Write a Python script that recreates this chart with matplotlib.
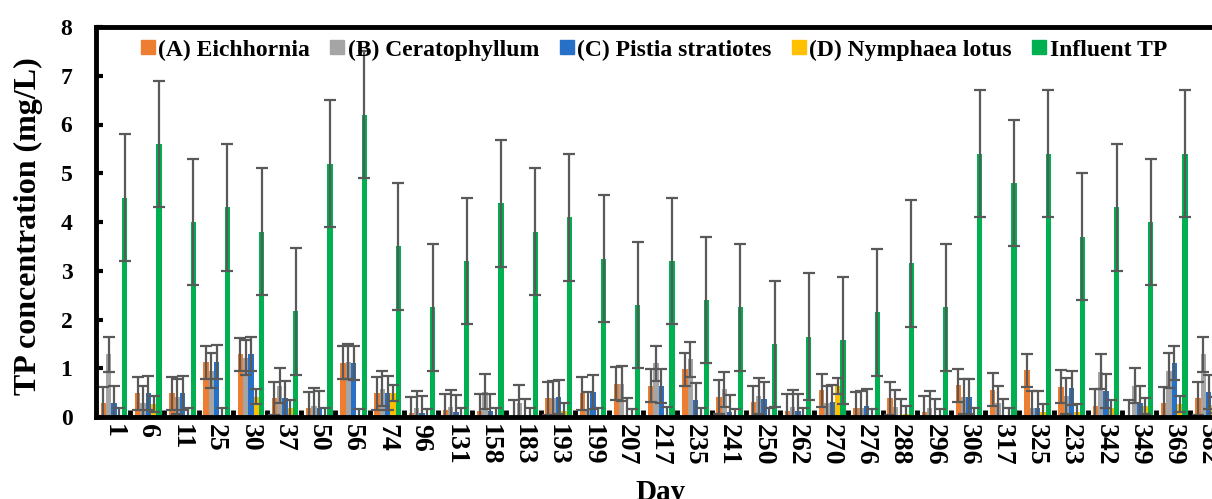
import matplotlib
matplotlib.use("Agg")
import matplotlib.pyplot as plt
from matplotlib.lines import Line2D
import numpy as np

days = ['1', '6', '11', '25', '30', '37', '50', '56', '74', '96', '131', '158', '183',
        '193', '199', '207', '217', '235', '241', '250', '262', '270', '276', '288',
        '296', '306', '317', '325', '233', '342', '349', '369', '382']

eichhornia = [0.28, 0.49, 0.49, 1.12, 1.29, 0.38, 0.18, 1.11, 0.49, 0.08, 0.14, 0.13, 0.01,
              0.38, 0.49, 0.68, 0.64, 0.98, 0.41, 0.30, 0.13, 0.55, 0.18, 0.38, 0.10, 0.65,
              0.56, 0.96, 0.62, 0.23, 0.01, 0.28, 0.38]
ceratophyllum = [1.29, 0.28, 0.42, 0.95, 1.22, 0.64, 0.23, 1.13, 0.58, 0.18, 0.20, 0.52, 0.29,
                 0.38, 0.15, 0.68, 1.10, 1.18, 0.57, 0.43, 0.20, 0.28, 0.18, 0.20, 0.18, 0.42,
                 0.28, 0.18, 0.43, 0.93, 0.64, 0.95, 1.29]
pistia = [0.28, 0.49, 0.49, 1.12, 1.29, 0.38, 0.18, 1.11, 0.49, 0.08, 0.10, 0.13, 0.01,
          0.41, 0.52, 0.05, 0.64, 0.34, 0.11, 0.36, 0.13, 0.31, 0.23, 0.01, 0.01, 0.42,
          0.01, 0.18, 0.60, 0.54, 0.28, 1.10, 0.52]
nymphaea = [0.03, 0.27, 0.02, 0.03, 0.42, 0.18, 0.02, 0.01, 0.49, 0.01, 0.02, 0.02, 0.02,
            0.13, 0.03, 0.01, 0.05, 0.02, 0.00, 0.02, 0.03, 0.64, 0.01, 0.07, 0.01, 0.02,
            0.02, 0.10, 0.11, 0.18, 0.23, 0.27, 0.25]
influent = [4.5, 5.6, 4.0, 4.3, 3.8, 2.17, 5.2, 6.2, 3.5, 2.25, 3.2, 4.38, 3.8,
            4.1, 3.25, 2.3, 3.2, 2.4, 2.25, 1.5, 1.65, 1.57, 2.15, 3.15, 2.25, 5.4,
            4.8, 5.4, 3.7, 4.3, 4.0, 5.4, 4.3]

err_eichhornia = 0.34
err_ceratophyllum = 0.36
err_pistia = 0.35
err_nymphaea = 0.16
err_influent = 1.3

series_names = ['(A) Eichhornia', '(B) Ceratophyllum', '(C) Pistia stratiotes',
                '(D) Nymphaea lotus', 'Influent TP']
yticks = [0, 1, 2, 3, 4, 5, 6, 7, 8]

colors = ['#ED7D31', '#A5A5A5', '#2670C8', '#FFC000', '#00B050']
plt.rcParams['font.family'] = ['Liberation Serif', 'DejaVu Serif']
plt.rcParams['font.weight'] = 'bold'

W, H = 1212, 499
fig = plt.figure(figsize=(W / 100, H / 100), dpi=100)
left_px, right_px, top_px, bot_px = 96, 96 + 33 * 34.2, 27, 417
ax = fig.add_axes([left_px / W, 1 - bot_px / H, (right_px - left_px) / W, (bot_px - top_px) / H])

x = np.arange(len(days))
bw = 0.156
values = [eichhornia, ceratophyllum, pistia, nymphaea, influent]
errs = [err_eichhornia, err_ceratophyllum, err_pistia, err_nymphaea, err_influent]
for i, (vals, e, c) in enumerate(zip(values, errs, colors)):
    ax.bar(x + (i - 2) * bw + 0.03, vals, width=bw, color=c, yerr=e,
           error_kw=dict(ecolor='#595959', elinewidth=1.6, capsize=4.2, capthick=1.6),
           zorder=2)

ax.set_xlim(-0.5, len(days) - 0.5)
ax.set_ylim(0, 8)
ax.set_yticks(yticks)
ax.set_yticklabels([str(v) for v in yticks])

ax.set_xticks(np.arange(len(days) - 1) + 0.5)
ax.set_xticklabels([])
ax.set_xticks(x, minor=True)
ax.set_xticklabels(days, minor=True, rotation=270, fontsize=20, fontweight='bold')
ax.tick_params(axis='x', which='minor', length=0, pad=5)
ax.tick_params(axis='x', which='major', direction='in', length=5, width=3.5, color='black')
ax.tick_params(axis='y', direction='in', length=5, width=3, labelsize=17, pad=17)
for lab in ax.get_yticklabels():
    lab.set_fontweight('bold')

for side in ['left', 'bottom', 'top']:
    ax.spines[side].set_linewidth(3.5)
    ax.spines[side].set_color('black')
ax.spines['right'].set_visible(False)

ax.set_ylabel('TP concentration (mg/L)', fontsize=23, fontweight='bold')
ax.set_xlabel('Day', fontsize=21, fontweight='bold')
ax.xaxis.set_label_coords(0.5, -0.158)
ax.yaxis.set_label_coords(-0.047, 0.49)

handles = [Line2D([], [], marker='s', linestyle='none', markersize=10,
                  markerfacecolor=c, markeredgecolor=c) for c in colors]
fig.legend(handles, series_names, loc='center', bbox_to_anchor=(0.538, 0.9), ncol=5,
           frameon=False, prop=dict(family='Liberation Serif', weight='bold', size=17),
           handletextpad=0.0, columnspacing=0.7, handlelength=0.9)

fig.savefig('out.png', dpi=100)
